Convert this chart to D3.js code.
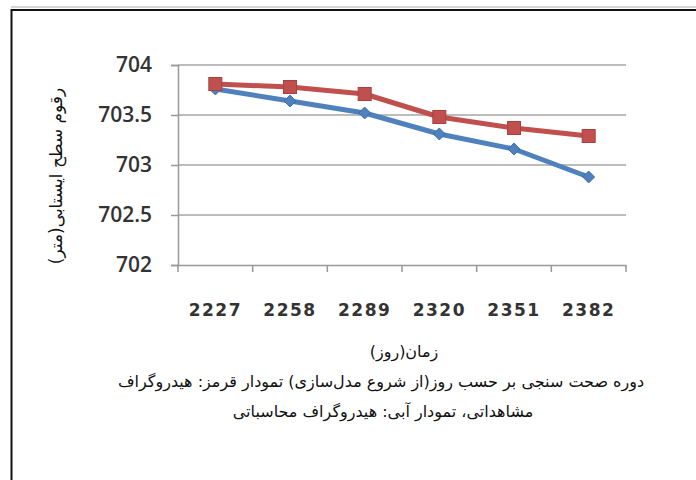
<!DOCTYPE html>
<html><head><meta charset="utf-8">
<script src="https://cdn.jsdelivr.net/npm/d3@7"></script>
<style>body{margin:0;background:#fff;} svg{display:block;}</style>
</head><body>
<svg id="c" width="696" height="480"></svg>
<script>
const categories = ["2227","2258","2289","2320","2351","2382"];
const observed = [703.81,703.78,703.71,703.48,703.37,703.29];   // red
const simulated = [703.76,703.64,703.52,703.31,703.16,702.88];  // blue
const yTicks = [702,702.5,703,703.5,704];
const yTitle = "رقوم سطح ایستابی(متر)";
const xTitle = "زمان(روز)";
const caption1 = "دوره صحت سنجی بر حسب روز(از شروع مدل‌سازی) تمودار قرمز: هیدروگراف";
const caption2 = "مشاهداتی، تمودار آبی: هیدروگراف محاسباتی";

const svg = d3.select("#c");
// frame
svg.append("line").attr("x1",11).attr("x2",696).attr("y1",7).attr("y2",7).attr("stroke","#aaa").attr("stroke-width",1);
svg.append("line").attr("x1",11).attr("x2",696).attr("y1",10).attr("y2",10).attr("stroke","#111").attr("stroke-width",2);
svg.append("line").attr("x1",11.5).attr("x2",11.5).attr("y1",9).attr("y2",480).attr("stroke","#111").attr("stroke-width",2);

const L=178, R=626, T=65, B=265;
const x = d3.scaleBand().domain(categories).range([L,R]);
const y = d3.scaleLinear().domain([702,704]).range([B,T]);

// grid
svg.append("g").selectAll("line").data(yTicks.slice(1)).join("line")
  .attr("x1",L).attr("x2",R).attr("y1",d=>y(d)).attr("y2",d=>y(d))
  .attr("stroke","#a6a6a6").attr("stroke-width",1.5);

// y axis
const ya = svg.append("g").attr("transform",`translate(${L},0)`)
  .call(d3.axisLeft(y).tickValues(yTicks).tickSize(7).tickPadding(19).tickFormat(d=>String(d)));
ya.select(".domain").attr("stroke","#999").attr("stroke-width",1.5);
ya.selectAll(".tick line").attr("stroke","#999").attr("stroke-width",1.5);
ya.selectAll("text").attr("font-family","Open Sans, sans-serif").attr("font-size",21).attr("fill","#333").attr("font-weight",600);

// x axis
const xa = svg.append("g").attr("transform",`translate(0,${B})`)
  .call(d3.axisBottom(x).tickSize(0).tickPadding(39));
xa.select(".domain").attr("stroke","#999").attr("stroke-width",1.5);
xa.selectAll(".tick text").attr("font-family","DejaVu Sans, sans-serif").attr("font-size",17).attr("font-weight","bold").attr("fill","#333").attr("letter-spacing",1.5);
// boundary ticks
svg.append("g").selectAll("line").data(categories).join("line")
  .attr("x1",(d,i)=>L + x.bandwidth()*(i+1)).attr("x2",(d,i)=>L + x.bandwidth()*(i+1))
  .attr("y1",B).attr("y2",B+7).attr("stroke","#999").attr("stroke-width",1.5);
svg.append("line").attr("x1",L).attr("x2",L).attr("y1",B).attr("y2",B+7).attr("stroke","#999").attr("stroke-width",1.5);

const cx = d=>x(d)+x.bandwidth()/2;
const line = d3.line().x((d,i)=>cx(categories[i])).y(d=>y(d));

svg.append("path").datum(simulated).attr("d",line).attr("fill","none").attr("stroke","#4F81BD").attr("stroke-width",5).attr("stroke-linejoin","round");
svg.append("g").selectAll("path").data(simulated).join("path")
  .attr("d",d3.symbol(d3.symbolDiamond2,90)())
  .attr("transform",(d,i)=>`translate(${cx(categories[i])},${y(d)})`)
  .attr("fill","#4F81BD").attr("stroke","#3d6fa8").attr("stroke-width",1);

svg.append("path").datum(observed).attr("d",line).attr("fill","none").attr("stroke","#C0504D").attr("stroke-width",5).attr("stroke-linejoin","round");
svg.append("g").selectAll("rect").data(observed).join("rect")
  .attr("x",(d,i)=>cx(categories[i])-6.5).attr("y",d=>y(d)-6.5).attr("width",13).attr("height",13)
  .attr("fill","#C0504D").attr("stroke","#a8403d").attr("stroke-width",1);

// titles
svg.append("text").attr("transform","translate(57,176) rotate(-90)").attr("text-anchor","middle").attr("dominant-baseline","middle")
  .attr("font-family","DejaVu Sans, sans-serif").attr("font-size",17).attr("fill","#111")
  .text(yTitle);
svg.append("text").attr("x",404).attr("y",357).attr("text-anchor","middle")
  .attr("font-family","DejaVu Sans, sans-serif").attr("font-size",16).attr("fill","#111")
  .text(xTitle);
svg.append("text").attr("x",381).attr("y",387).attr("text-anchor","middle")
  .attr("font-family","DejaVu Sans, sans-serif").attr("font-size",16).attr("fill","#111")
  .text(caption1);
svg.append("text").attr("x",383).attr("y",417).attr("text-anchor","middle")
  .attr("font-family","DejaVu Sans, sans-serif").attr("font-size",16).attr("fill","#111")
  .text(caption2);
</script>
</body></html>
